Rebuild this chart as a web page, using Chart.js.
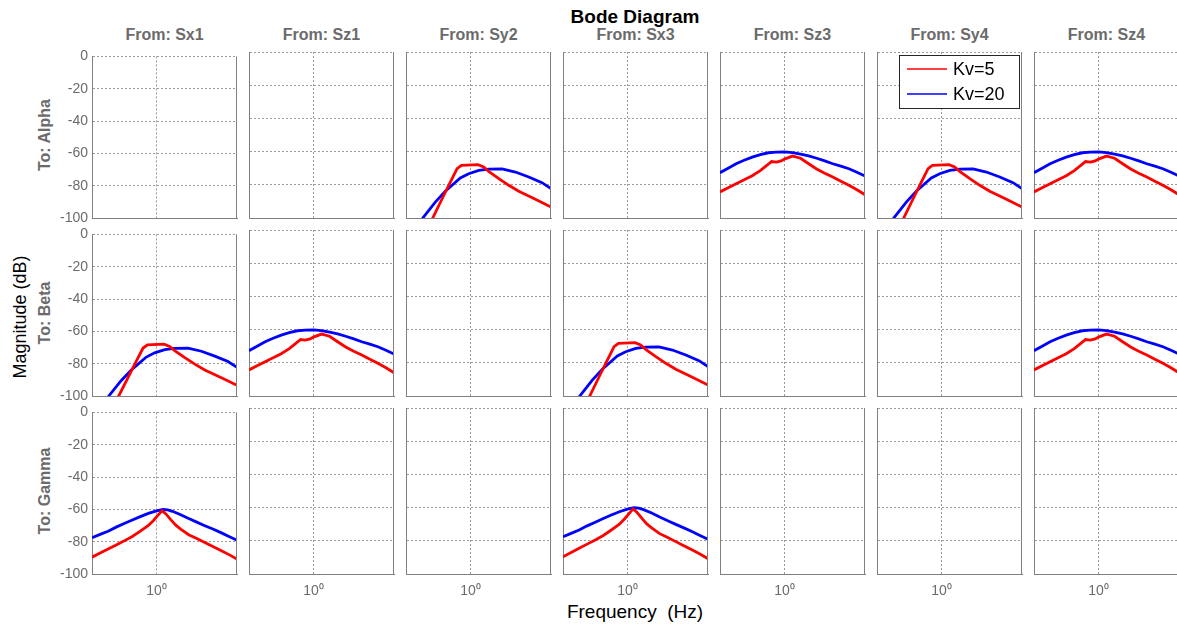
<!DOCTYPE html>
<html>
<head>
<meta charset="utf-8">
<title>Bode Diagram</title>
<script src="https://cdn.jsdelivr.net/npm/chart.js@4/dist/chart.umd.min.js"></script>
<style>
  html, body { margin: 0; padding: 0; background: #fff; overflow: hidden; }
  #fig { position: relative; width: 1177px; height: 626px; font-family: "Liberation Sans", Arial, sans-serif; }
  #fig canvas { position: absolute; }
  .lbl { position: absolute; white-space: pre; line-height: 1; transform: translate(-50%, -50%); }
  .title { font-weight: bold; font-size: 19px; color: #000; }
  .from { font-weight: bold; font-size: 16px; color: #6b6b6b; }
  .to { font-weight: bold; font-size: 16px; color: #6b6b6b; transform: translate(-50%, -50%) rotate(-90deg); }
  .axis { font-size: 19px; color: #000; }
  .ylab { font-size: 18px; transform: translate(-50%, -50%) rotate(-90deg); }
</style>
</head>
<body>
<div id="fig"></div>
<script>
const inputs = ["Sx1", "Sz1", "Sy2", "Sx3", "Sz3", "Sy4", "Sz4"];
const outputs = ["Alpha", "Beta", "Gamma"];
const seriesLabels = ["Kv=5", "Kv=20"];
const yTicks = [0, -20, -40, -60, -80, -100];

// steep rise, flat top then roll-off (Sy -> Alpha, Sx -> Beta)
const riseFreqKv5 = [0.550, 0.583, 0.667, 0.769, 0.826, 0.879, 1.114, 1.208, 1.297, 1.500, 1.730, 1.995, 2.529, 3.162];
const riseMagKv5 = [-105, -100, -88.4, -76.3, -70.3, -68.3, -67.9, -69.3, -71.9, -76.3, -80.3, -83.9, -88.7, -93.4];
const riseFreqKv20 = [0.480, 0.506, 0.605, 0.698, 0.769, 0.865, 0.975, 1.127, 1.297, 1.570, 1.901, 2.301, 2.780, 3.162];
const riseMagKv20 = [-104, -100, -90.4, -83.9, -80.3, -75.9, -73.3, -71.3, -70.5, -70.4, -72.3, -75.3, -78.7, -82.3];

// broad hump (Sz inputs)
const humpFreqKv5 = [0.398, 0.447, 0.501, 0.562, 0.631, 0.708, 0.794, 0.832, 0.891, 0.955, 1.000, 1.122, 1.259, 1.413, 1.585, 1.778, 1.995, 2.239, 2.512, 2.818, 3.162];
const humpMagKv5 = [-84.3, -81.8, -79.3, -77, -74.5, -71.5, -67.5, -66, -66.3, -65.6, -64.5, -62.7, -64, -67.3, -70.5, -73, -75.3, -77.8, -80.3, -83, -86];
const humpFreqKv20 = [0.398, 0.447, 0.501, 0.562, 0.631, 0.708, 0.794, 0.891, 1.000, 1.122, 1.259, 1.413, 1.585, 1.778, 1.995, 2.239, 2.512, 2.818, 3.162];
const humpMagKv20 = [-72.7, -70, -67.3, -65.2, -63.3, -61.8, -60.7, -60.3, -60.2, -60.6, -61.5, -62.6, -64, -65.6, -67.3, -68.8, -70.3, -72.4, -74.7];

// sharp resonance peak (Sx -> Gamma)
const peakFreqKv5 = [0.398, 0.447, 0.501, 0.562, 0.631, 0.708, 0.794, 0.891, 0.955, 1.023, 1.084, 1.148, 1.230, 1.318, 1.413, 1.585, 1.778, 1.995, 2.239, 2.512, 2.818, 3.162];
const peakMagKv5 = [-89.6, -87, -84.5, -82, -79.5, -76.8, -73.5, -70, -67, -63.6, -60.8, -63, -66.5, -69.8, -72.2, -75.7, -78, -80.5, -83, -85.4, -88, -90.8];
const peakFreqKv20 = [0.398, 0.447, 0.501, 0.562, 0.631, 0.708, 0.794, 0.891, 1.000, 1.096, 1.175, 1.259, 1.413, 1.585, 1.778, 1.995, 2.239, 2.512, 2.818, 3.162];
const peakMagKv20 = [-77.5, -75.5, -73.5, -71, -68.8, -66.6, -64.5, -62.5, -60.9, -60.1, -60.3, -61.2, -63.3, -65.7, -67.9, -70.1, -72.2, -74.4, -76.8, -79.1];

const shapes = {
  rise: [[riseFreqKv5, riseMagKv5], [riseFreqKv20, riseMagKv20]],
  hump: [[humpFreqKv5, humpMagKv5], [humpFreqKv20, humpMagKv20]],
  peak: [[peakFreqKv5, peakMagKv5], [peakFreqKv20, peakMagKv20]]
};

// which response sits in each output/input cell
const cellShape = [
  [null, null, "rise", null, "hump", "rise", "hump"],
  ["rise", "hump", null, "rise", null, null, "hump"],
  ["peak", null, null, "peak", null, null, null]
];

const lineColors = ["#ff0000", "#0000ff"];
const fMin = 0.398, fMax = 3.162;

// panel geometry
const panelLeft0 = 92, panelStep = 157, panelW = 145;
const panelTop0 = 52, rowStep = 178, panelH = 166;
const padL = 60, padT = 8, padR = 4, padB = 34;

const tickGray = "#6b6b6b";
const fig = document.getElementById("fig");

function addLabel(cls, text, x, y) {
  const d = document.createElement("div");
  d.className = "lbl " + cls;
  d.textContent = text;
  d.style.left = x + "px";
  d.style.top = y + "px";
  fig.appendChild(d);
}

addLabel("title", "Bode Diagram", 635, 16);
addLabel("axis", "Frequency  (Hz)", 635, 611);
addLabel("axis ylab", "Magnitude (dB)", 20, 317);
inputs.forEach((name, c) => addLabel("from", "From: " + name, panelLeft0 + c * panelStep + panelW / 2, 35));
outputs.forEach((name, r) => addLabel("to", "To: " + name, 45, panelTop0 + r * rowStep + panelH / 2));

// right-hand edge of each axes box
const frameRight = {
  id: "frameRight",
  afterDraw(chart) {
    const a = chart.chartArea, ctx = chart.ctx;
    ctx.save();
    ctx.strokeStyle = "#808080";
    ctx.lineWidth = 1;
    ctx.beginPath();
    ctx.moveTo(a.right - 0.5, a.top);
    ctx.lineTo(a.right - 0.5, a.bottom);
    ctx.stroke();
    ctx.restore();
  }
};

// boxed legend inside the axes
const insetLegend = {
  id: "insetLegend",
  afterDraw(chart) {
    const a = chart.chartArea, ctx = chart.ctx;
    const w = 121, h = 54;
    const x = a.right - 2 - w, y = a.top + 3;
    ctx.save();
    ctx.fillStyle = "#fff";
    ctx.fillRect(x, y, w, h);
    ctx.strokeStyle = "#262626";
    ctx.lineWidth = 1;
    ctx.strokeRect(x + 0.5, y + 0.5, w - 1, h - 1);
    ctx.font = "18px 'Liberation Sans', Arial, sans-serif";
    ctx.textBaseline = "middle";
    chart.data.datasets.forEach((ds, i) => {
      const ly = y + 14 + i * 25;
      ctx.strokeStyle = lineColors[i];
      ctx.lineWidth = 1.6;
      ctx.beginPath();
      ctx.moveTo(x + 8, ly);
      ctx.lineTo(x + 48, ly);
      ctx.stroke();
      ctx.fillStyle = "#000";
      ctx.fillText(ds.label, x + 54, ly + 1);
    });
    ctx.restore();
  }
};

outputs.forEach((out, r) => {
  inputs.forEach((inp, c) => {
    const canvas = document.createElement("canvas");
    canvas.width = padL + panelW + padR;
    canvas.height = padT + panelH + padB;
    canvas.style.left = (panelLeft0 + c * panelStep - padL) + "px";
    canvas.style.top = (panelTop0 + r * rowStep - padT) + "px";
    fig.appendChild(canvas);

    const shape = cellShape[r][c];
    const datasets = seriesLabels.map((label, k) => ({
      label: label,
      data: shape ? shapes[shape][k][0].map((f, i) => ({ x: f, y: shapes[shape][k][1][i] })) : [],
      borderColor: lineColors[k],
      borderWidth: 2.8,
      pointRadius: 0,
      tension: 0,
      fill: false
    }));

    const plugins = [frameRight];
    if (r === 0 && c === 5) plugins.push(insetLegend);

    new Chart(canvas.getContext("2d"), {
      type: "line",
      data: { datasets: datasets },
      plugins: plugins,
      options: {
        responsive: false,
        animation: false,
        events: [],
        layout: { padding: { left: 0, top: padT, right: padR, bottom: 0 } },
        plugins: { legend: { display: false }, tooltip: { enabled: false } },
        scales: {
          x: {
            type: "logarithmic",
            min: fMin,
            max: fMax,
            afterBuildTicks: s => { s.ticks = [{ value: 1 }]; },
            afterFit: s => { s.height = padB; },
            ticks: {
              display: r === outputs.length - 1,
              callback: () => "10\u2070",
              color: tickGray,
              font: { family: "'Liberation Sans', Arial, sans-serif", size: 14 },
              padding: 9,
              maxRotation: 0,
              autoSkip: false
            },
            grid: { color: "#9a9a9a", lineWidth: 1, drawTicks: false },
            border: { display: true, color: "#808080", width: 1, dash: [2, 2] }
          },
          y: {
            min: -100,
            max: 0,
            afterBuildTicks: s => { s.ticks = yTicks.map(v => ({ value: v })); },
            afterFit: s => { s.width = padL; },
            ticks: {
              display: c === 0,
              color: tickGray,
              font: { family: "'Liberation Sans', Arial, sans-serif", size: 14 },
              padding: 4
            },
            grid: { color: "#9a9a9a", lineWidth: 1, drawTicks: false },
            border: { display: true, color: "#808080", width: 1, dash: [2, 2] }
          }
        }
      }
    });
  });
});
</script>
</body>
</html>
